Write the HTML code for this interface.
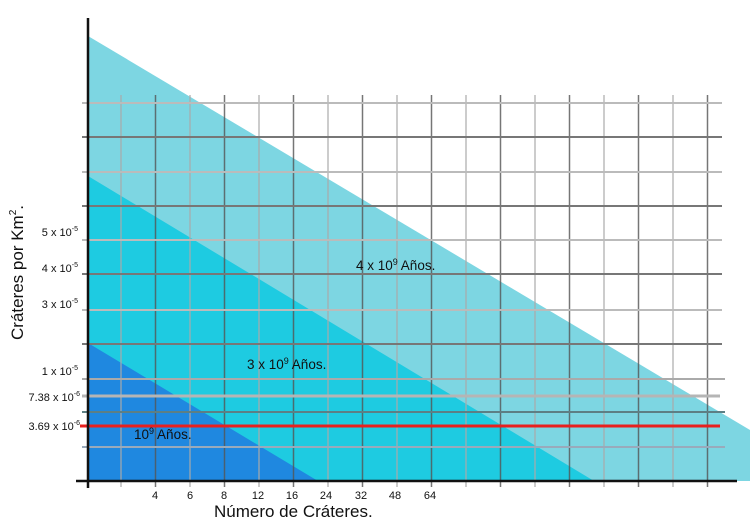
<!DOCTYPE html>
<html><head><meta charset="utf-8"><style>
body{margin:0;background:#fff;}
svg{display:block;font-family:"Liberation Sans",sans-serif;}
</style></head><body>
<svg width="750" height="523" viewBox="0 0 750 523">
<polygon points="88,36 750,430 750,481 88,481" fill="#7dd6e2"/>
<polygon points="88,176 594,481 88,481" fill="#1ecbe1"/>
<polygon points="88,343 318,481 88,481" fill="#1f88e0"/>
<g stroke-width="1.5">
<line x1="121" y1="95" x2="121" y2="487" stroke="#aaa" opacity="0.8"/>
<line x1="155.5" y1="95" x2="155.5" y2="487" stroke="#555" opacity="0.8"/>
<line x1="190" y1="95" x2="190" y2="487" stroke="#aaa" opacity="0.8"/>
<line x1="224.5" y1="95" x2="224.5" y2="487" stroke="#555" opacity="0.8"/>
<line x1="259" y1="95" x2="259" y2="487" stroke="#aaa" opacity="0.8"/>
<line x1="293.5" y1="95" x2="293.5" y2="487" stroke="#555" opacity="0.8"/>
<line x1="328" y1="95" x2="328" y2="487" stroke="#aaa" opacity="0.8"/>
<line x1="362.5" y1="95" x2="362.5" y2="487" stroke="#555" opacity="0.8"/>
<line x1="397" y1="95" x2="397" y2="487" stroke="#aaa" opacity="0.8"/>
<line x1="431.5" y1="95" x2="431.5" y2="487" stroke="#555" opacity="0.8"/>
<line x1="466" y1="95" x2="466" y2="487" stroke="#aaa" opacity="0.8"/>
<line x1="500.5" y1="95" x2="500.5" y2="487" stroke="#555" opacity="0.8"/>
<line x1="535" y1="95" x2="535" y2="487" stroke="#aaa" opacity="0.8"/>
<line x1="569.5" y1="95" x2="569.5" y2="487" stroke="#555" opacity="0.8"/>
<line x1="604" y1="95" x2="604" y2="487" stroke="#aaa" opacity="0.8"/>
<line x1="638.5" y1="95" x2="638.5" y2="487" stroke="#555" opacity="0.8"/>
<line x1="673" y1="95" x2="673" y2="487" stroke="#aaa" opacity="0.8"/>
<line x1="707.5" y1="95" x2="707.5" y2="487" stroke="#555" opacity="0.8"/>
</g>
<g stroke-width="2">
<line x1="82" y1="103" x2="722" y2="103" stroke="#bbb"/>
<line x1="82" y1="137" x2="722" y2="137" stroke="#777"/>
<line x1="82" y1="172" x2="722" y2="172" stroke="#bbb"/>
<line x1="82" y1="206" x2="722" y2="206" stroke="#777"/>
<line x1="82" y1="240" x2="722" y2="240" stroke="#bbb"/>
<line x1="82" y1="274" x2="722" y2="274" stroke="#777"/>
<line x1="82" y1="310" x2="722" y2="310" stroke="#bbb"/>
<line x1="82" y1="344" x2="722" y2="344" stroke="#777"/>
<line x1="82" y1="379" x2="725" y2="379" stroke="#aaa"/>
<line x1="82" y1="396" x2="720" y2="396" stroke="#b5b5b5" stroke-width="3"/>
<line x1="82" y1="412" x2="725" y2="412" stroke="#5d7f84"/>
<line x1="82" y1="447" x2="725" y2="447" stroke="#9ab"/>
<line x1="80" y1="426" x2="720" y2="426" stroke="#e8201f" stroke-width="3"/>
</g>
<line x1="88" y1="18" x2="88" y2="488" stroke="#111" stroke-width="2.5"/>
<line x1="76" y1="481" x2="737" y2="481" stroke="#111" stroke-width="2.5"/>
<g font-size="11" fill="#111" text-anchor="end">
<text x="78" y="236">5 x 10<tspan font-size="7" dy="-5">-5</tspan></text>
<text x="78" y="272">4 x 10<tspan font-size="7" dy="-5">-5</tspan></text>
<text x="78" y="308">3 x 10<tspan font-size="7" dy="-5">-5</tspan></text>
<text x="78" y="375">1 x 10<tspan font-size="7" dy="-5">-5</tspan></text>
<text x="80" y="401">7.38 x 10<tspan font-size="7" dy="-5">-6</tspan></text>
<text x="80" y="430">3.69 x 10<tspan font-size="7" dy="-5">-6</tspan></text>
</g>
<g font-size="11" fill="#111" text-anchor="middle">
<text x="155" y="499">4</text><text x="190" y="499">6</text><text x="224" y="499">8</text>
<text x="258" y="499">12</text><text x="292" y="499">16</text><text x="326" y="499">24</text>
<text x="361" y="499">32</text><text x="395" y="499">48</text><text x="430" y="499">64</text>
</g>
<text x="214" y="517" font-size="17" fill="#111">Número de Cráteres.</text>
<text transform="translate(23,340) rotate(-90)" font-size="17" fill="#111">Cráteres por Km<tspan font-size="10" dy="-7">2</tspan><tspan dy="7">.</tspan></text>
<g font-size="13.5" fill="#111">
<text x="356" y="270">4 x 10<tspan font-size="9" dy="-5">9</tspan><tspan dy="5">  Años.</tspan></text>
<text x="247" y="369">3 x 10<tspan font-size="9" dy="-5">9</tspan><tspan dy="5">  Años.</tspan></text>
<text x="134" y="439">10<tspan font-size="9" dy="-5">9</tspan><tspan dy="5">  Años.</tspan></text>
</g>
</svg>
</body></html>
